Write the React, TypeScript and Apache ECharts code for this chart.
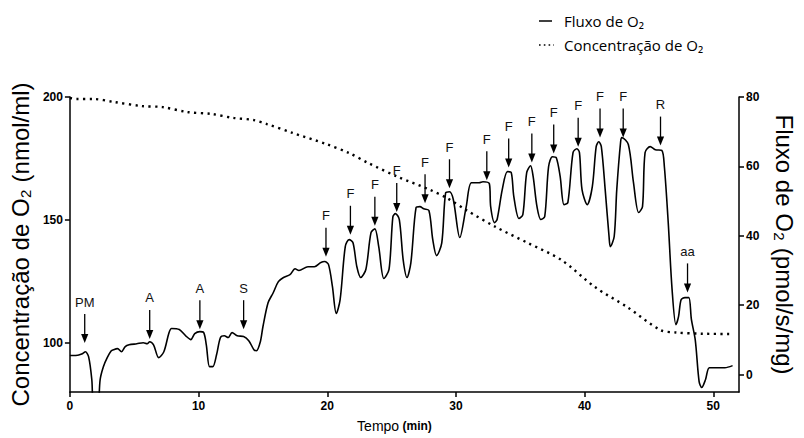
import React, { useEffect, useRef } from "react";
import * as echarts from "echarts";

// Flux (O2 flux, right axis, pmol/s/mg) trace
const fluxTime = [
  0, 0.3, 0.6, 0.8, 1.0, 1.2, 1.45, 1.7, 1.85, 2.15, 2.35, 2.6, 2.9, 3.2, 3.4, 3.7, 4.0, 4.3, 4.6, 5.2,
  5.7, 6.0, 6.2, 6.5, 6.9, 7.3, 7.7, 7.9, 8.5, 9.0, 9.4, 9.7, 10.1, 10.4, 10.6, 10.85, 11.1, 11.4, 11.7, 12.0,
  12.3, 12.6, 13.0, 13.5, 13.9, 14.3, 14.5, 14.8, 15.0, 15.4, 15.8, 16.2, 16.6, 17.1, 17.5, 17.8, 18.5, 19.0, 19.5, 19.8,
  20.1, 20.4, 20.7, 21.0, 21.4, 21.7, 22.0, 22.3, 22.6, 23.0, 23.4, 23.7, 24.0, 24.4, 24.8, 25.1, 25.3, 25.6, 25.9, 26.2,
  26.5, 26.9, 27.2, 27.5, 27.9, 28.2, 28.5, 28.9, 29.2, 29.5, 29.8, 30.3, 30.8, 31.2, 31.8, 32.1, 32.6, 32.7, 33.0, 33.2,
  33.6, 34.0, 34.3, 34.5, 34.9, 35.2, 35.5, 35.8, 36.0, 36.3, 36.6, 36.9, 37.2, 37.5, 37.8, 38.1, 38.4, 38.7, 39.1, 39.4,
  39.6, 39.8, 40.2, 40.6, 40.9, 41.1, 41.3, 41.6, 41.9, 42.0, 42.3, 42.5, 42.8, 42.9, 43.4, 43.8, 44.2, 44.5, 44.7, 45.1,
  45.5, 46.0, 46.2, 46.5, 46.8, 47.1, 47.3, 47.5, 47.8, 48.1, 48.3, 48.6, 48.9, 49.1, 49.4, 49.7, 50.4, 50.9, 51.5,
];
const fluxValue = [
  5.5, 5.5, 5.6, 5.8, 6.1, 6.6, 5.2, -1.4, -10, -10, -1.4, 2.3, 4.9, 6.8, 7.2, 7.5, 6.6, 8.1, 8.6, 8.9,
  9.2, 8.9, 9.5, 8.6, 4.9, 6.6, 12.1, 13.3, 13.0, 11.2, 10.1, 11.8, 12.4, 12.1, 8.6, 2.3, 2.3, 5.8, 10.7, 11.2,
  10.7, 12.1, 11.2, 11.0, 9.8, 7.2, 6.9, 9.5, 13.8, 20.7, 23.6, 26.8, 28, 28.8, 30.5, 30, 31.1, 31.1, 32.3, 32.6,
  31.7, 25.4, 17.6, 21.6, 36.9, 38.9, 38, 31.1, 28, 30.3, 40.9, 42, 36.9, 27.7, 30.3, 45.5, 46.4, 44.7, 33.1, 28,
  32.3, 48.1, 48.4, 47.8, 47.3, 38.9, 34.3, 38, 52.4, 52.7, 50.4, 39.5, 48.4, 55.3, 55.3, 55.6, 55, 48.4, 43.8, 44.7,
  53.3, 58.5, 58.2, 51.3, 45, 46.1, 58.2, 60.2, 57.1, 48.4, 44.7, 45.5, 59.9, 62.8, 62.5, 57.1, 49, 49.6, 64, 65.1,
  64, 53.3, 49, 54.2, 65.7, 67.1, 65.7, 53.3, 39.8, 36.9, 39.8, 53.3, 67.1, 68.3, 66.3, 55.3, 46.7, 48.4, 64, 65.7,
  64.8, 64.6, 59.9, 43.8, 24.5, 14.4, 16.7, 21.6, 22.2, 22.2, 15.9, 10, -2, -3.7, -1.4, 2, 2, 2, 2.6,
];

// O2 concentration (left axis, nmol/ml)
const concTime = [0, 0.5, 1.8, 3.4, 5.6, 7.2, 9.1, 11.0, 12.7, 14.3, 15.3, 17.3, 19.9, 21.7, 23.2, 25.5, 28.0, 29.3, 30.8, 33.1, 35.6, 38.2, 40.8, 43.3, 45.9, 47.1, 49.2, 51.5];
const concValue = [199.6, 199.2, 199.2, 198, 196.3, 195.9, 193.9, 193.1, 191.5, 190.6, 189, 185.4, 180.9, 177.2, 173.1, 167.5, 162.2, 158.9, 154, 147.1, 140.6, 133.7, 122.7, 114.6, 105.2, 104.2, 103.7, 103.6];

// Additions (arrows): time, flux at arrow tip, label
const arrowTime = [1.15, 6.2, 10.1, 13.5, 19.9, 21.8, 23.7, 25.4, 27.6, 29.5, 32.4, 34.1, 35.9, 37.6, 39.5, 41.2, 43.0, 45.9, 48.0];
const arrowValue = [9.1, 10.3, 13.1, 13.1, 34, 40.3, 42.9, 46.9, 49.4, 53.7, 56, 59.7, 61.1, 63.7, 65.7, 68.3, 68.3, 66, 23.7];
const arrowLabels = ["PM", "A", "A", "S", "F", "F", "F", "F", "F", "F", "F", "F", "F", "F", "F", "F", "F", "R", "aa"];

const xTicks = [0, 10, 20, 30, 40, 50];
const leftTicks = [100, 150, 200];
const rightTicks = [0, 20, 40, 60, 80];

export default function App() {
  const ref = useRef<HTMLDivElement>(null);
  useEffect(() => {
    document.body.style.margin = "0";
    if (!ref.current) return;
    const chart = echarts.init(ref.current, undefined, { renderer: "svg" });
    const fluxData = fluxTime.map((t, i) => [t, fluxValue[i]]);
    const concData = concTime.map((t, i) => [t, concValue[i]]);
    const arrowData = arrowTime.map((t, i) => [t, arrowValue[i]]);
    const axisFont = { fontFamily: "Liberation Sans, Arial, sans-serif", fontWeight: "bold", fontSize: 12, color: "#000" };
    const nameFont = { fontFamily: "Liberation Sans, Arial, sans-serif", fontSize: 24, color: "#000" };
    const legendFont = "'Open Sans', Lato, sans-serif";
    chart.setOption({
      animation: false,
      backgroundColor: "#fff",
      grid: { left: 66, right: 56, top: 97, bottom: 46, containLabel: false },
      xAxis: {
        type: "value",
        min: 0,
        max: 52,
        name: "{n|Tempo} {b|(min)}",
        nameLocation: "middle",
        nameGap: 27,
        nameTextStyle: {
          padding: [0, 20, 0, 0],
          rich: {
            n: { fontFamily: "Liberation Sans, Arial, sans-serif", fontSize: 14, color: "#000" },
            b: { fontFamily: "Liberation Sans, Arial, sans-serif", fontSize: 12, fontWeight: "bold", color: "#000" },
          },
        },
        axisLine: { show: true, onZero: false, lineStyle: { color: "#000", width: 1.5 } },
        axisTick: { show: true, length: 5, customValues: xTicks, lineStyle: { color: "#000", width: 1.5 } },
        axisLabel: { ...axisFont, margin: 8, customValues: xTicks },
        splitLine: { show: false },
      },
      yAxis: [
        {
          type: "value",
          min: 80,
          max: 200,
          position: "left",
          name: "Concentração de O₂ (nmol/ml)",
          nameLocation: "middle",
          nameGap: 35,
          nameTextStyle: nameFont,
          axisLine: { show: true, onZero: false, lineStyle: { color: "#000", width: 1.5 } },
          axisTick: { show: true, length: 5, customValues: leftTicks, lineStyle: { color: "#000", width: 1.5 } },
          axisLabel: { ...axisFont, margin: 7, customValues: leftTicks },
          splitLine: { show: false },
        },
        {
          type: "value",
          min: -5,
          max: 80,
          position: "right",
          name: "Fluxo de O₂ (pmol/s/mg)",
          nameLocation: "middle",
          nameRotate: -90,
          nameGap: 33,
          nameTextStyle: nameFont,
          axisLine: { show: true, onZero: false, lineStyle: { color: "#000", width: 1.5 } },
          axisTick: { show: true, length: 5, customValues: rightTicks, lineStyle: { color: "#000", width: 1.5 } },
          axisLabel: { ...axisFont, margin: 7, customValues: rightTicks },
          splitLine: { show: false },
        },
      ],
      series: [
        {
          name: "Concentração de O₂",
          type: "line",
          yAxisIndex: 0,
          data: concData,
          showSymbol: false,
          smooth: 0.3,
          lineStyle: { color: "#000", width: 2.4, type: [2.2, 4.4], cap: "butt" },
        },
        {
          name: "Fluxo de O₂",
          type: "line",
          yAxisIndex: 1,
          data: fluxData,
          showSymbol: false,
          smooth: 0.3,
          clip: true,
          lineStyle: { color: "#000", width: 1.6 },
        },
        {
          type: "custom",
          yAxisIndex: 1,
          data: arrowData,
          clip: false,
          silent: true,
          renderItem: (params: any, api: any) => {
            const p = api.coord([api.value(0), api.value(1)]);
            const x = p[0];
            const y = p[1];
            return {
              type: "group",
              children: [
                { type: "line", shape: { x1: x, y1: y - 29, x2: x, y2: y - 8 }, style: { stroke: "#000", lineWidth: 1.3 } },
                { type: "polygon", shape: { points: [[x - 3.6, y - 9], [x + 3.6, y - 9], [x, y]] }, style: { fill: "#000" } },
                {
                  type: "text",
                  x: x,
                  y: y - 41,
                  style: {
                    text: arrowLabels[params.dataIndex],
                    fill: "#111",
                    font: "13px 'Liberation Sans', Arial, sans-serif",
                    align: "center",
                    verticalAlign: "middle",
                  },
                },
              ],
            };
          },
        },
      ],
      graphic: [
        { type: "line", shape: { x1: 539, y1: 21, x2: 552, y2: 21 }, style: { stroke: "#000", lineWidth: 1.5 } },
        { type: "text", x: 564, y: 21, style: { text: "Fluxo de O₂", font: `15px ${legendFont}`, fill: "#000", verticalAlign: "middle" } },
        { type: "line", shape: { x1: 539, y1: 45, x2: 554, y2: 45 }, style: { stroke: "#000", lineWidth: 1.6, lineDash: [1.6, 3.2] } },
        { type: "text", x: 564, y: 45, style: { text: "Concentração de O₂", font: `15px ${legendFont}`, fill: "#000", verticalAlign: "middle" } },
      ],
    });
    return () => chart.dispose();
  }, []);
  return <div ref={ref} style={{ position: "absolute", left: 0, top: 0, width: 804, height: 438 }} />;
}
